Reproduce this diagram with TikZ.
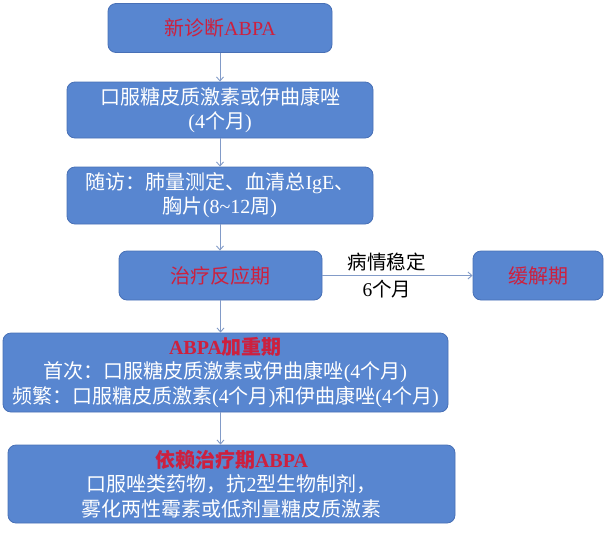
\documentclass[tikz,border=0pt]{standalone}
\usepackage{fontspec}
\setmainfont{Liberation Serif}
\newfontfamily\cjk{Noto Sans CJK SC}
\newcommand{\zh}[1]{{\cjk #1}}
\usetikzlibrary{arrows.meta}
\definecolor{boxfill}{RGB}{88,134,208}
\definecolor{boxline}{RGB}{72,112,182}
\definecolor{redtxt}{RGB}{205,32,62}
\definecolor{conn}{RGB}{130,155,200}
\begin{document}
\begin{tikzpicture}[x=1pt,y=-1pt,
  box/.style={draw=boxline,line width=0.8pt,fill=boxfill,rounded corners=8pt,
    text=white,align=center,inner sep=0pt,
    font=\fontsize{20}{24.3}\selectfont},
  conline/.style={draw=conn,line width=0.9pt,-{Straight Barb[length=4pt,width=7pt]}},
  lbl/.style={font=\fontsize{19.5}{23}\selectfont,text=black}]
\useasboundingbox (0,0) rectangle (616,539);
\node[box,minimum width=224pt,minimum height=49pt] (b1) at (220,28)
  {\textcolor{redtxt}{\zh{新诊断}ABPA}};
\node[box,minimum width=306pt,minimum height=56pt] (b2) at (220,110)
  {\zh{口服糖皮质激素或伊曲康唑}\\(4\zh{个月})};
\node[box,minimum width=306pt,minimum height=57pt] (b3) at (220,195.5)
  {\zh{随访：肺量测定、血清总}IgE\zh{、}\\\zh{胸片}(8\textasciitilde12\zh{周})};
\node[box,minimum width=203pt,minimum height=49pt] (b4) at (220.5,275.5)
  {\textcolor{redtxt}{\zh{治疗反应期}}};
\node[box,minimum width=130pt,minimum height=49pt] (b5) at (538,275.5)
  {\textcolor{redtxt}{\zh{缓解期}}};
\node[box,minimum width=445pt,minimum height=79pt] (b6) at (225.5,372.5)
  {\textcolor{redtxt}{\bfseries ABPA\zh{加重期}}\\
   \zh{首次：口服糖皮质激素或伊曲康唑}(4\zh{个月})\\
   \zh{频繁：口服糖皮质激素}(4\zh{个月})\zh{和伊曲康唑}(4\zh{个月})};
\node[box,minimum width=447pt,minimum height=78pt] (b7) at (231.5,484)
  {\textcolor{redtxt}{\bfseries\zh{依赖治疗期}ABPA}\\
   \zh{口服唑类药物，抗}2\zh{型生物制剂，}\\
   \zh{雾化两性霉素或低剂量糖皮质激素}};
\draw[conline] (b1.south) -- (b1.south |- b2.north);
\draw[conline] (b2.south) -- (b2.south |- b3.north);
\draw[conline] (b3.south) -- (b3.south |- b4.north);
\draw[conline] (b4.south) -- (b4.south |- b6.north);
\draw[conline] (b4.south |- b6.south) -- (b4.south |- b7.north);
\draw[conline] (b4.east) -- (b5.west)
  node[lbl,pos=0.43,above=1pt] (l1) {\zh{病情稳定}}
  node[lbl,pos=0.43,below=1pt] (l2) {6\zh{个月}};
\end{tikzpicture}
\end{document}
